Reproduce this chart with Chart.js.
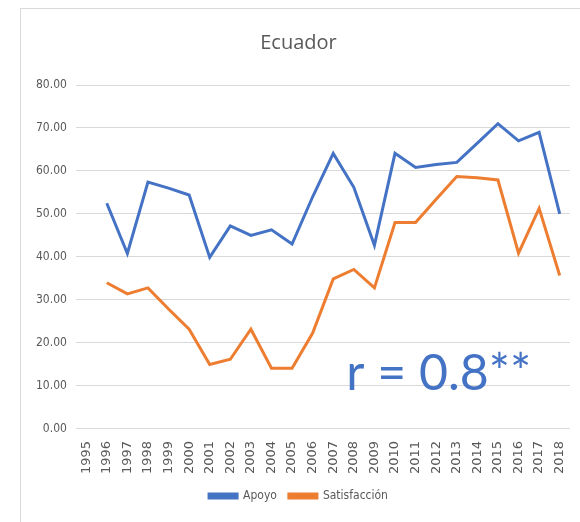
<!DOCTYPE html>
<html lang="es">
<head>
    <meta charset="UTF-8">
    <title>Ecuador</title>
    <script src="https://cdn.jsdelivr.net/npm/chart.js"></script>
    <style>
        body { margin: 0; background: #fff; overflow: hidden; }
        #frame {
            position: absolute; left: 20px; top: 8px;
            width: 575px; height: 520px;
            border: 1px solid #d9d9d9; box-sizing: border-box;
        }
        #wrap { position: absolute; left: 0; top: 0; width: 560px; height: 514px; }
    </style>
</head>
<body>
    <div id="frame">
        <div id="wrap"><canvas id="chart"></canvas></div>
    </div>
    <script>
        const years = ['1995', '1996', '1997', '1998', '1999', '2000', '2001', '2002', '2003', '2004', '2005', '2006',
            '2007', '2008', '2009', '2010', '2011', '2012', '2013', '2014', '2015', '2016', '2017', '2018'];
        const apoyo = [null, 52.5, 40.8, 57.4, 56.0, 54.4, 39.9, 47.2, 45.0, 46.3, 43.0, 54.0,
            64.1, 56.2, 42.7, 64.1, 60.8, 61.5, 62.0, 66.5, 71.0, 67.0, 69.0, 50.0];
        const satisfaccion = [null, 34.0, 31.4, 32.8, 27.9, 23.2, 15.0, 16.2, 23.2, 14.1, 14.1, 22.3,
            34.9, 37.1, 32.8, 48.0, 48.0, 53.4, 58.7, 58.4, 57.9, 40.9, 51.3, 35.7];
        const corrText = 'r = 0.8**';

        const annotate = {
            id: 'annotate',
            afterDraw(chart) {
                const ctx = chart.ctx;
                const x = chart.scales.x.getPixelForValue(12.63);
                const y = chart.scales.y.getPixelForValue(9.1);
                ctx.save();
                ctx.fillStyle = '#4472C4';
                ctx.font = '50px Lato, sans-serif';
                ctx.textAlign = 'left';
                ctx.textBaseline = 'alphabetic';
                ctx.fillText(corrText, x, y);
                ctx.restore();
            }
        };

        const tickFont = { family: '"DejaVu Sans Condensed", "Liberation Sans Narrow", sans-serif', size: 12 };
        const xFont = { family: '"DejaVu Sans", sans-serif', size: 13 };

        new Chart(document.getElementById('chart'), {
            type: 'line',
            data: {
                labels: years,
                datasets: [
                    { label: 'Apoyo', data: apoyo, borderColor: '#4472C4', backgroundColor: '#4472C4', borderWidth: 3, pointRadius: 0, tension: 0 },
                    { label: 'Satisfacción', data: satisfaccion, borderColor: '#ED7D31', backgroundColor: '#ED7D31', borderWidth: 3, pointRadius: 0, tension: 0 }
                ]
            },
            options: {
                responsive: true,
                maintainAspectRatio: false,
                animation: false,
                layout: { padding: { left: 6, right: 11, top: 22, bottom: 11 } },
                plugins: {
                    title: {
                        display: true, text: 'Ecuador', color: '#595959',
                        font: { family: '"Open Sans", sans-serif', size: 20, weight: 'normal' },
                        padding: { top: 0, bottom: 30 }
                    },
                    legend: {
                        position: 'bottom',
                        labels: { color: '#595959', font: tickFont, boxWidth: 28, boxHeight: 4, padding: 12 }
                    },
                    tooltip: { enabled: false }
                },
                scales: {
                    x: {
                        offset: true,
                        grid: { display: false },
                        border: { display: false },
                        ticks: { color: '#595959', font: xFont, minRotation: 90, maxRotation: 90, autoSkip: false, padding: 4 }
                    },
                    y: {
                        min: 0, max: 80,
                        grid: { color: '#d9d9d9', drawTicks: false },
                        border: { display: false },
                        ticks: { stepSize: 10, color: '#595959', font: tickFont, padding: 9, callback: v => v.toFixed(2) }
                    }
                }
            },
            plugins: [annotate]
        });
    </script>
</body>
</html>
